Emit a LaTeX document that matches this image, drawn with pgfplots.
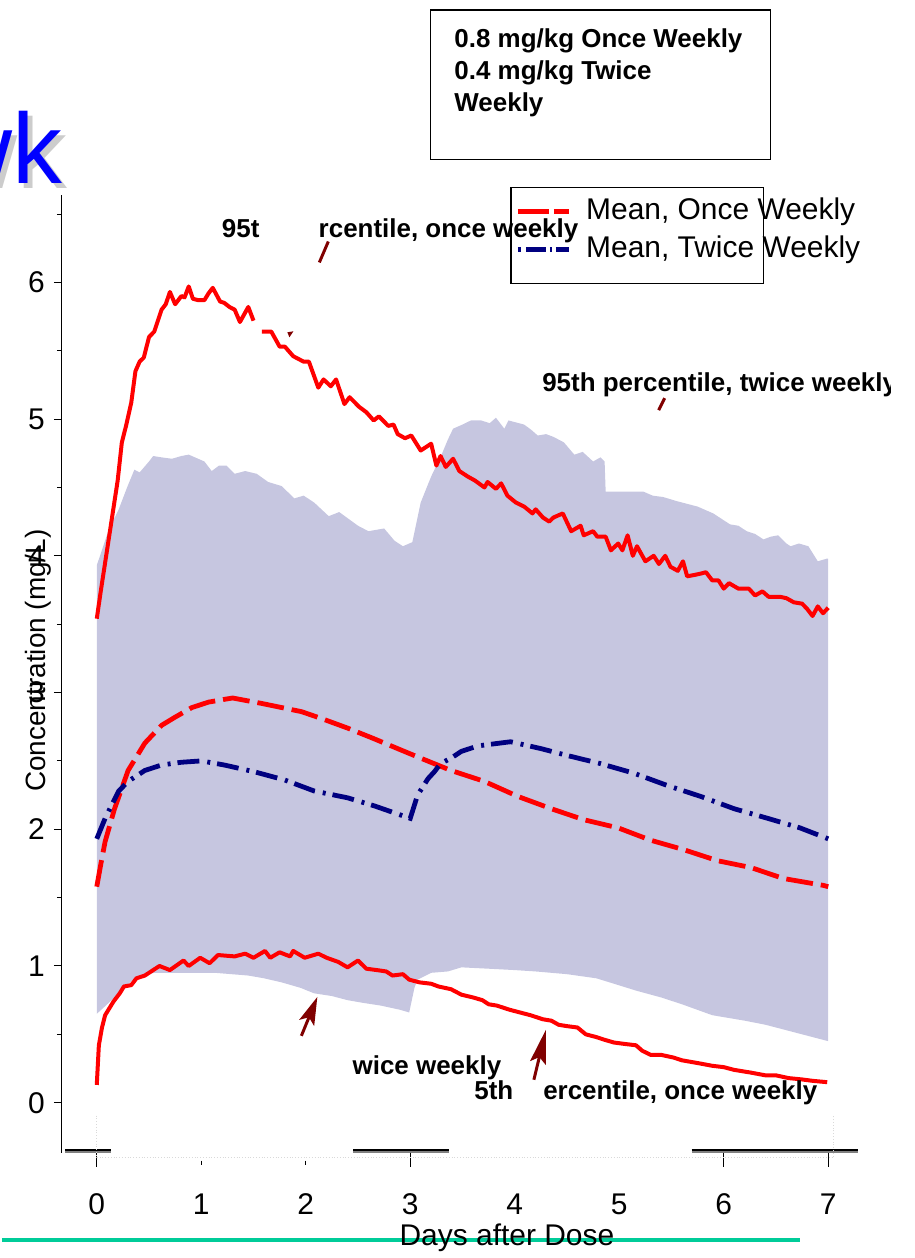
\documentclass[border=0pt]{standalone}
\usepackage{pgfplots}
\pgfplotsset{compat=1.18}
\usetikzlibrary{arrows.meta}
\usepackage{fontspec}
\setmainfont{Liberation Sans}
\definecolor{onceRed}{RGB}{255,0,0}
\definecolor{twiceNavy}{RGB}{0,0,128}
\definecolor{bandFill}{RGB}{198,198,224}
\definecolor{arrowRed}{RGB}{128,0,0}
\definecolor{titleBlue}{RGB}{0,0,255}
\definecolor{ruleTeal}{RGB}{0,204,153}

\begin{document}
\begin{tikzpicture}
% page frame in pixel units of the reference (origin top left)
\begin{scope}[x=0.5pt,y=-0.5pt]
\useasboundingbox (0,0) rectangle (914,1258);
% cut-off slide title
\node[anchor=base east, inner sep=0, font=\fontsize{50}{50}\selectfont, text=gray!40] at (66,189) {wk};
\node[anchor=base east, inner sep=0, font=\fontsize{50}{50}\selectfont, text=titleBlue] at (61,184) {wk};
\end{scope}

\begin{axis}[
  at={(30pt,-577.5pt)}, anchor=south west,
  width=399pt, height=480pt, scale only axis,
  xmin=-0.334, xmax=7.287, ymin=-0.365, ymax=6.642,
  axis lines*=left,
  x axis line style={draw=none},
  y axis line style={line width=0.6pt},
  xtick={0,...,7}, xtick style={draw=none},
  ytick={0,...,6},
  minor ytick={0.5,1.5,...,6.5},
  tick align=outside,
  major tick length=4pt, minor tick length=2.5pt,
  ytick style={line width=0.5pt, black},
  ticklabel style={font=\fontsize{15}{15}\selectfont},
  /pgf/number format/assume math mode=true,
  xticklabel style={yshift=-13pt},
  yticklabel style={xshift=-1pt},
  unbounded coords=jump,
]
% 5th-95th percentile band, twice weekly
\addplot[fill=bandFill, draw=none] coordinates {
  (0,3.93)(0.11,4.18)(0.21,4.34)(0.29,4.5)(0.36,4.63)(0.41,4.61)(0.5,4.69)(0.54,4.73)
  (0.62,4.72)(0.72,4.71)(0.81,4.73)(0.88,4.74)(0.97,4.71)(1.03,4.69)(1.1,4.62)(1.17,4.66)
  (1.24,4.66)(1.32,4.6)(1.42,4.62)(1.53,4.6)(1.64,4.54)(1.77,4.51)(1.89,4.42)(1.98,4.44)
  (2.08,4.39)(2.22,4.29)(2.32,4.32)(2.41,4.27)(2.5,4.22)(2.6,4.18)(2.75,4.2)(2.85,4.11)
  (2.93,4.07)(2.99,4.09)(3.02,4.1)(3.1,4.39)(3.2,4.58)(3.3,4.74)(3.36,4.85)(3.41,4.93)
  (3.5,4.96)(3.58,4.99)(3.68,4.99)(3.76,4.97)(3.82,5.01)(3.9,4.93)(3.94,4.99)(4.09,4.96)
  (4.16,4.92)(4.22,4.88)(4.3,4.89)(4.37,4.87)(4.47,4.83)(4.57,4.74)(4.65,4.76)(4.75,4.69)
  (4.82,4.72)(4.86,4.69)(4.87,4.47)(5.0,4.47)(5.23,4.47)(5.32,4.44)(5.42,4.43)(5.55,4.40)
  (5.75,4.36)(5.9,4.31)(6.06,4.23)(6.14,4.22)(6.22,4.18)(6.3,4.16)(6.38,4.12)(6.45,4.14)
  (6.52,4.15)(6.6,4.09)(6.64,4.07)(6.72,4.09)(6.81,4.07)(6.9,3.96)(6.99,3.98)(7.0,3.98)
  (7.0,0.45)(6.8,0.49)(6.6,0.53)(6.4,0.57)(6.2,0.6)(5.89,0.64)(5.6,0.72)(5.4,0.77)
  (5.16,0.82)(4.95,0.87)(4.78,0.91)(4.5,0.94)(4.2,0.96)(4.0,0.97)(3.75,0.98)(3.49,0.99)
  (3.36,0.96)(3.2,0.95)(3.07,0.9)(3.04,0.84)(2.99,0.66)(2.9,0.68)(2.72,0.71)(2.55,0.73)
  (2.4,0.75)(2.25,0.78)(2.08,0.8)(1.95,0.84)(1.77,0.88)(1.6,0.91)(1.45,0.93)(1.13,0.95)
  (0.81,0.95)(0.55,0.95)(0.36,0.91)(0.21,0.8)(0.1,0.72)(0,0.65)
};
% 95th percentile, once weekly
\addplot[onceRed, line width=2pt, line join=round] coordinates {
  (0,3.54)(0.04,3.75)(0.08,3.95)(0.15,4.3)(0.2,4.55)(0.24,4.83)(0.28,4.95)(0.33,5.12)
  (0.37,5.35)(0.41,5.42)(0.45,5.45)(0.5,5.6)(0.55,5.64)(0.62,5.8)(0.66,5.84)(0.7,5.93)
  (0.75,5.84)(0.81,5.9)(0.84,5.89)(0.88,5.97)(0.92,5.88)(0.97,5.87)(1.03,5.87)(1.07,5.92)
  (1.11,5.96)(1.18,5.86)(1.22,5.85)(1.27,5.82)(1.32,5.8)(1.37,5.71)(1.45,5.82)(1.5,5.72)
  (1.54,nan)(1.58,5.64)(1.67,5.64)(1.75,5.53)(1.8,5.53)(1.88,5.46)(1.98,5.42)(2.03,5.42)
  (2.12,5.23)(2.17,5.29)(2.24,5.24)(2.29,5.29)(2.37,5.11)(2.42,5.16)(2.51,5.09)(2.58,5.05)
  (2.65,4.99)(2.7,5.02)(2.79,4.95)(2.84,4.96)(2.88,4.89)(2.95,4.86)(3.01,4.88)(3.1,4.77)
  (3.2,4.82)(3.25,4.66)(3.29,4.73)(3.34,4.65)(3.41,4.71)(3.47,4.62)(3.55,4.58)(3.62,4.55)
  (3.71,4.5)(3.74,4.54)(3.82,4.49)(3.87,4.53)(3.93,4.44)(4.01,4.39)(4.09,4.36)(4.17,4.31)
  (4.2,4.34)(4.27,4.28)(4.33,4.25)(4.37,4.28)(4.46,4.31)(4.54,4.18)(4.63,4.22)(4.66,4.15)
  (4.75,4.18)(4.79,4.14)(4.87,4.14)(4.92,4.04)(4.99,4.09)(5.03,4.04)(5.08,4.15)(5.13,4.0)
  (5.17,4.07)(5.25,3.96)(5.33,4.0)(5.38,3.94)(5.44,4.0)(5.49,3.92)(5.56,3.89)(5.61,3.96)
  (5.65,3.85)(5.72,3.86)(5.78,3.87)(5.83,3.88)(5.89,3.82)(5.95,3.82)(6.0,3.76)(6.05,3.8)
  (6.14,3.76)(6.24,3.76)(6.3,3.71)(6.37,3.74)(6.43,3.7)(6.54,3.7)(6.6,3.69)(6.67,3.66)
  (6.75,3.65)(6.8,3.61)(6.85,3.56)(6.9,3.63)(6.95,3.58)(7.0,3.62)
};
% 5th percentile, once weekly
\addplot[onceRed, line width=2pt, line join=round] coordinates {
  (0,0.13)(0.02,0.42)(0.05,0.55)(0.08,0.64)(0.16,0.74)(0.22,0.8)(0.26,0.85)(0.33,0.86)
  (0.38,0.91)(0.46,0.93)(0.54,0.97)(0.6,1.0)(0.7,0.97)(0.83,1.04)(0.88,1.0)(0.99,1.06)
  (1.08,1.02)(1.16,1.08)(1.32,1.07)(1.42,1.09)(1.5,1.06)(1.61,1.11)(1.66,1.06)(1.75,1.1)
  (1.85,1.07)(1.88,1.11)(1.99,1.06)(2.12,1.09)(2.2,1.06)(2.31,1.03)(2.4,0.99)(2.5,1.04)
  (2.58,0.98)(2.68,0.97)(2.77,0.96)(2.83,0.93)(2.93,0.94)(2.99,0.9)(3.09,0.88)(3.2,0.87)
  (3.27,0.85)(3.39,0.83)(3.49,0.79)(3.6,0.77)(3.69,0.75)(3.75,0.72)(3.83,0.71)(3.95,0.68)
  (4.05,0.66)(4.15,0.64)(4.27,0.61)(4.35,0.6)(4.42,0.57)(4.5,0.56)(4.6,0.55)(4.68,0.5)
  (4.78,0.48)(4.86,0.46)(4.95,0.44)(5.05,0.43)(5.16,0.42)(5.22,0.38)(5.3,0.35)(5.4,0.35)
  (5.52,0.33)(5.6,0.31)(5.75,0.29)(5.89,0.27)(6.0,0.26)(6.1,0.24)(6.26,0.22)(6.4,0.2)
  (6.5,0.2)(6.62,0.18)(6.75,0.17)(6.85,0.16)(6.99,0.15)
};
% mean, once weekly
\addplot[onceRed, line width=2.4pt, dash pattern=on 13.5pt off 4pt] coordinates {
  (0,1.58)(0.04,1.75)(0.08,1.91)(0.17,2.15)(0.3,2.43)(0.46,2.63)(0.62,2.76)(0.75,2.82)
  (0.91,2.89)(1.07,2.93)(1.22,2.95)(1.3,2.96)(1.37,2.95)(1.58,2.92)(1.77,2.89)(1.96,2.86)
  (2.15,2.81)(2.4,2.74)(2.66,2.66)(2.91,2.58)(3.1,2.52)(3.39,2.43)(3.71,2.35)(4.03,2.24)
  (4.35,2.15)(4.66,2.07)(4.99,2.01)(5.3,1.92)(5.62,1.85)(5.94,1.77)(6.26,1.72)(6.57,1.64)
  (6.95,1.59)(7.0,1.58)
};
% mean, twice weekly
\addplot[twiceNavy, line width=2.4pt, dash pattern=on 11pt off 4pt on 1.5pt off 3.5pt] coordinates {
  (0,1.93)(0.08,2.08)(0.21,2.28)(0.3,2.35)(0.46,2.43)(0.62,2.47)(0.81,2.49)(1.0,2.5)
  (1.22,2.47)(1.51,2.42)(1.8,2.36)(2.08,2.28)(2.4,2.23)(2.66,2.17)(2.96,2.09)(3.0,2.08)
  (3.07,2.25)(3.17,2.37)(3.23,2.42)(3.29,2.48)(3.39,2.52)(3.49,2.57)(3.65,2.61)(3.96,2.64)
  (4.25,2.59)(4.5,2.54)(4.82,2.48)(5.14,2.41)(5.46,2.32)(5.78,2.24)(6.1,2.15)(6.42,2.08)
  (6.73,2.01)(7.0,1.93)
};
\end{axis}

\begin{scope}[x=0.5pt,y=-0.5pt]
% broken x axis line and its ticks
\foreach \a/\b in {63/109, 352/448, 691/858}{
  \draw[black, line width=1pt] (\a,1152) -- (\b,1152);
  \draw[gray, line width=1pt] (\a,1154.5) -- (\b,1154.5);
}
\foreach \t in {95,409,723,828}{ \draw[black, line width=0.5pt] (\t,1155) -- (\t,1169); }
\foreach \t in {200,304.5}{ \draw[black, line width=0.5pt] (\t,1163) -- (\t,1167); }
\draw[gray!30, densely dotted, line width=0.4pt] (95,1118) -- (95,1160) -- (833,1160) -- (833,1118);

% axis titles
\node[rotate=90, font=\fontsize{14}{14}\selectfont] at (36,662) {Concentration (mg/L)};
\draw[ruleTeal, line width=2pt] (0,1243) -- (800,1243);
\node[font=\fontsize{15}{15}\selectfont] at (506,1240) {Days after Dose};

% dosing box
\draw[black, line width=0.6pt] (429,10) rectangle (770,160);
\begin{scope}[every node/.style={anchor=base west, inner sep=0, font=\fontsize{13}{13}\selectfont\bfseries}]
\node at (453,48) {0.8 mg/kg Once Weekly};
\node at (453,80) {0.4 mg/kg Twice};
\node at (453,112) {Weekly};
\end{scope}

% legend
\draw[black, line width=0.6pt] (510,188) rectangle (763,284);
\draw[onceRed, line width=2.5pt, dash pattern=on 15.5pt off 2.5pt] (517,212) -- (568,212);
\draw[twiceNavy, line width=2.5pt, dash pattern=on 1.5pt off 2.5pt on 10pt off 2pt on 1pt off 2pt on 8pt off 0pt] (517,250) -- (568,250);
\node[anchor=west, inner sep=0, font=\fontsize{15}{15}\selectfont] at (585,212) {Mean, Once Weekly};
\node[anchor=west, inner sep=0, font=\fontsize{15}{15}\selectfont] at (585,250) {Mean, Twice Weekly};

% annotations
\begin{scope}[every node/.style={anchor=base west, inner sep=0, font=\fontsize{13}{13}\selectfont\bfseries}]
\node at (220,238) {95t};
\node at (317,238) {rcentile, once weekly};
\begin{scope}
\clip (0,0) rectangle (890,1258);
\node at (541,392) {95th percentile, twice weekly};
\end{scope}
\node at (351,1077) {wice weekly};
\node at (473,1102) {5th};
\node at (542,1102) {ercentile, once weekly};
\end{scope}
\draw[arrowRed, line width=1.5pt] (327,242) -- (318,263);
\draw[arrowRed, line width=1.5pt] (664,399) -- (658,411);
\fill[arrowRed] (286,333) -- (292,332) -- (288,338) -- cycle;
\draw[arrowRed, line width=1.5pt, -{Stealth[length=14pt, width=8pt, inset=3pt]}] (300,1038) -- (316,999);
\draw[arrowRed, line width=1.5pt, -{Stealth[length=17pt, width=8pt, inset=3pt]}] (533,1082) -- (545,1032);
\end{scope}
\end{tikzpicture}
\end{document}
